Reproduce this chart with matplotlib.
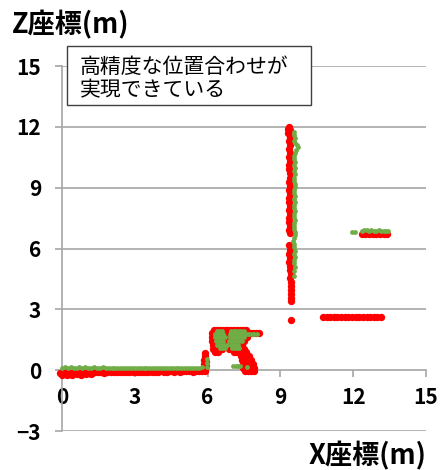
import matplotlib
matplotlib.use("Agg")
import matplotlib.pyplot as plt
from matplotlib.patches import Rectangle

plt.rcParams['font.family'] = ['Noto Sans CJK JP', 'DejaVu Sans']

# floor line (z ~ 0)
floor_red_x = [-0.08, 0.05, 0.18, 0.31, 0.44, 0.57, 0.7, 0.83, 0.96, 1.09, 1.22, 1.35,
               1.48, 1.61, 1.74, 1.87, 2.0, 2.13, 2.26, 2.39, 2.52, 2.65, 2.78, 2.91,
               3.04, 3.17, 3.3, 3.43, 3.56, 3.69, 3.82, 3.95, 4.08, 4.21, 4.34, 4.47,
               4.6, 4.73, 4.86, 4.99, 5.12, 5.25, 5.38, 5.51, 5.64, 5.77, 5.9,
               0.0, 0.2, 0.4, 0.6, 0.8, 1.0, 1.2]
floor_red_z = [-0.12, -0.14, -0.1, -0.13, -0.12, -0.1, -0.14, -0.11, -0.12, -0.1, -0.12, -0.1,
               -0.11, -0.1, -0.12, -0.09, -0.1, -0.11, -0.09, -0.1, -0.08, -0.1, -0.09, -0.08,
               -0.1, -0.08, -0.09, -0.07, -0.08, -0.09, -0.07, -0.08, -0.06, -0.08, -0.07, -0.06,
               -0.07, -0.06, -0.08, -0.05, -0.06, -0.05, -0.07, -0.05, -0.04, -0.05, -0.03,
               -0.24, -0.22, -0.25, -0.2, -0.22, -0.19, -0.18]
floor_green_x = [0.0, 0.12, 0.24, 0.36, 0.48, 0.6, 0.72, 0.84, 0.96, 1.08, 1.2, 1.32,
                 1.44, 1.56, 1.68, 1.8, 1.92, 2.04, 2.16, 2.28, 2.4, 2.52, 2.64, 2.76,
                 2.88, 3.0, 3.12, 3.24, 3.36, 3.48, 3.6, 3.72, 3.84, 3.96, 4.08, 4.2,
                 4.32, 4.44, 4.56, 4.68, 4.8, 4.92, 5.04, 5.16, 5.28, 5.4, 5.52, 5.64, 5.78]
floor_green_z = [0.13, 0.14, 0.12, 0.14, 0.13, 0.12, 0.14, 0.13, 0.14, 0.12, 0.13, 0.14,
                 0.12, 0.13, 0.14, 0.12, 0.13, 0.1, 0.12, 0.13, 0.1, 0.12, 0.13, 0.11,
                 0.12, 0.13, 0.1, 0.12, 0.13, 0.12, 0.1, 0.13, 0.12, 0.11, 0.13, 0.12,
                 0.1, 0.12, 0.13, 0.11, 0.12, 0.13, 0.1, 0.12, 0.11, 0.13, 0.1, 0.12, 0.14]

# small rise near x = 6
rise_red_x = [5.84, 5.86, 5.87, 5.88, 5.9, 5.94, 5.95]
rise_red_z = [0.1, 0.3, 0.5, 0.7, 0.85, 0.2, 0.4]
rise_green_x = [5.96, 5.98, 5.97]
rise_green_z = [0.55, 0.35, 0.15]

# step block around x = 6.2 .. 8.1 (rows: z, list of x)
block_red = [
    (2.0, [6.26, 6.38, 6.5, 6.62, 6.74, 6.86, 6.98, 7.1, 7.22, 7.34, 7.46, 7.58]),
    (1.85, [6.2, 6.32, 6.44, 6.56, 6.68, 6.8, 6.92, 7.04, 7.16, 7.28, 7.4, 7.52, 7.64, 7.76, 7.88, 8.0, 8.1]),
    (1.65, [6.2, 6.32, 6.44, 6.56, 6.68, 6.8, 6.92, 7.04, 7.16, 7.28, 7.4, 7.52, 7.62]),
    (1.45, [6.2, 6.32, 6.44, 6.56, 6.68, 6.8, 6.92, 7.04, 7.16, 7.28, 7.4, 7.5]),
    (1.25, [6.22, 6.34, 6.46, 6.58, 6.7, 6.82, 6.94, 7.06, 7.18, 7.3, 7.42]),
    (1.05, [6.24, 6.36, 6.48, 6.6, 6.9, 7.02, 7.14, 7.26, 7.38, 7.5]),
    (0.88, [6.3, 6.42, 7.1, 7.22, 7.34, 7.46, 7.58]),
    (0.7, [7.36, 7.48, 7.6, 7.7]),
    (0.52, [7.42, 7.54, 7.66, 7.78]),
    (0.32, [7.44, 7.56, 7.68, 7.8, 7.86]),
    (0.12, [7.46, 7.58, 7.7, 7.82, 7.9]),
    (-0.05, [7.55, 7.68, 7.8, 7.9]),
]
block_green = [
    (1.95, [6.38, 6.48, 6.58, 6.98, 7.08, 7.18, 7.28, 7.38, 7.48]),
    (1.8, [6.32, 6.42, 6.52, 6.62, 6.92, 7.02, 7.12, 7.22, 7.32, 7.42, 7.52, 7.62, 7.72, 7.82, 7.92, 8.02]),
    (1.62, [6.3, 6.4, 6.5, 6.6, 6.7, 6.92, 7.02, 7.12, 7.22, 7.32, 7.42, 7.5]),
    (1.44, [6.34, 6.44, 6.54, 6.64, 6.9, 7.0, 7.1, 7.2, 7.3, 7.4]),
    (1.26, [6.4, 6.5, 6.6, 6.7, 6.8, 6.95, 7.05, 7.15, 7.25]),
    (1.08, [6.5, 6.6, 6.7, 7.02, 7.12, 7.22, 7.3]),
    (0.2, [7.05, 7.15, 7.25, 7.35]),
    (0.14, [7.62]),
]

# vertical column near x = 9.4
col_red_x = [9.35, 9.3, 9.4, 9.33, 9.38, 9.35, 9.4, 9.36, 9.38, 9.35, 9.4, 9.37, 9.35,
             9.38, 9.4, 9.36, 9.38, 9.35, 9.4, 9.37, 9.35, 9.38, 9.36, 9.4, 9.37, 9.35,
             9.38, 9.36, 9.4,
             9.35, 9.38, 9.36, 9.4, 9.37, 9.38, 9.4, 9.42, 9.4, 9.42, 9.43, 9.42, 9.44,
             9.43, 9.45, 9.43]
col_red_z = [12.0, 11.9, 11.85, 11.7, 11.5, 11.3, 11.1, 10.9, 10.7, 10.5, 10.3, 10.1, 9.9,
             9.7, 9.5, 9.3, 9.1, 8.9, 8.7, 8.5, 8.3, 8.1, 7.9, 7.7, 7.5, 7.3,
             7.1, 6.9, 6.75,
             6.15, 5.95, 5.75, 5.55, 5.35, 5.15, 4.95, 4.75, 4.55, 4.35, 4.15, 3.95, 3.75,
             3.55, 3.4, 2.45]
col_green_x = [9.55, 9.58, 9.6, 9.57, 9.62, 9.68, 9.72, 9.64, 9.6, 9.58, 9.56, 9.6,
               9.58, 9.62, 9.57, 9.6, 9.55, 9.58, 9.62, 9.6, 9.56, 9.58, 9.6, 9.57,
               9.62, 9.58, 9.55, 9.6, 9.57, 9.56, 9.6, 9.58, 9.56, 9.58, 9.6, 9.62,
               9.55, 9.52, 9.56, 9.58, 9.6, 9.57, 9.6, 9.58, 9.56, 9.6, 9.58, 9.57]
col_green_z = [11.75, 11.6, 11.45, 11.3, 11.2, 11.1, 11.0, 10.85, 10.7, 10.55, 10.4, 10.25,
               10.1, 9.95, 9.8, 9.65, 9.5, 9.35, 9.2, 9.05, 8.9, 8.75, 8.6, 8.45,
               8.3, 8.15, 8.0, 7.85, 7.7, 7.55, 7.4, 7.25, 7.1, 6.95, 6.8, 6.65,
               6.5, 6.35, 6.2, 6.05, 5.9, 5.75, 5.6, 5.45, 5.3, 5.1, 4.9, 4.65]

# lower horizontal run at z ~ 2.6
run_red_x = [10.75, 10.9, 11.05, 11.2, 11.35, 11.5, 11.65, 11.8, 11.95, 12.1, 12.25,
             12.4, 12.55, 12.7, 12.85, 13.0, 13.15]
run_red_z = [2.62, 2.6, 2.62, 2.61, 2.6, 2.62, 2.6, 2.61, 2.62, 2.6, 2.61,
             2.62, 2.6, 2.61, 2.62, 2.6, 2.61]

# upper horizontal run at z ~ 6.8
ledge_red_x = [12.35, 12.5, 12.65, 12.8, 12.95, 13.1, 13.25, 13.4]
ledge_red_z = [6.72, 6.7, 6.72, 6.7, 6.71, 6.7, 6.72, 6.7]
ledge_green_x = [11.95, 12.08, 12.35, 12.45, 12.55, 12.65, 12.75, 12.85, 12.95, 13.05,
                 13.15, 13.25, 13.35, 13.45]
ledge_green_z = [6.82, 6.82, 6.88, 6.92, 6.9, 6.87, 6.9, 6.88, 6.86, 6.9, 6.87,
                 6.85, 6.88, 6.84]

x_ticks = [0, 3, 6, 9, 12, 15]
z_ticks = [-3, 0, 3, 6, 9, 12, 15]


def rows_to_xy(rows):
    xs, zs = [], []
    for z, row in rows:
        xs += row
        zs += [z] * len(row)
    return xs, zs


bx_r, bz_r = rows_to_xy(block_red)
bx_g, bz_g = rows_to_xy(block_green)

red_x = floor_red_x + rise_red_x + bx_r + col_red_x + run_red_x + ledge_red_x
red_z = floor_red_z + rise_red_z + bz_r + col_red_z + run_red_z + ledge_red_z
green_x = floor_green_x + rise_green_x + bx_g + col_green_x + ledge_green_x
green_z = floor_green_z + rise_green_z + bz_g + col_green_z + ledge_green_z

fig = plt.figure(figsize=(4.44, 4.70), dpi=100)
ax = fig.add_axes([62 / 444, 1 - 431 / 470, 364 / 444, 365 / 470])

grid_c = '#A6A6A6'
for z in z_ticks:
    if z != 0:
        ax.axhline(z, color=grid_c, lw=1.2, zorder=0)

ax.scatter(red_x, red_z, s=28, color='#FF0000', linewidths=0, zorder=3, clip_on=False)
ax.scatter(green_x, green_z, s=12, color='#70AD47', linewidths=0, zorder=4, clip_on=False)

ax.set_xlim(0, 15)
ax.set_ylim(-3, 15)
ax.set_xticks(x_ticks)
ax.set_yticks(z_ticks)

for side in ['top', 'right']:
    ax.spines[side].set_visible(False)
ax.spines['bottom'].set_position(('data', 0))
ax.spines['left'].set_position(('data', 0))
for side in ['bottom', 'left']:
    ax.spines[side].set_color(grid_c)
    ax.spines[side].set_linewidth(1.2)

ax.tick_params(axis='both', colors=grid_c, length=5, width=1.2, direction='out',
               labelcolor='black', labelsize=15)
ax.tick_params(axis='x', pad=7)
ax.tick_params(axis='y', pad=10)
for lab in ax.get_xticklabels() + ax.get_yticklabels():
    lab.set_fontweight('bold')

fig.text(12 / 444, 1 - 25 / 470, 'Z座標(m)', fontsize=19.5, fontweight='bold',
         ha='left', va='center')
fig.text(426 / 444, 1 - 456 / 470, 'X座標(m)', fontsize=19.5, fontweight='bold',
         ha='right', va='center')

# annotation box
fig.add_artist(Rectangle((67 / 444, 1 - 105 / 470), 244 / 444, 59 / 470,
                         transform=fig.transFigure, facecolor='white',
                         edgecolor='#404040', lw=1.0, zorder=5))
fig.text(80 / 444, 1 - 67 / 470, '高精度な位置合わせが', fontsize=15,
         ha='left', va='center', zorder=6)
fig.text(80 / 444, 1 - 90 / 470, '実現できている', fontsize=15,
         ha='left', va='center', zorder=6)

fig.savefig('out.png', dpi=100)
